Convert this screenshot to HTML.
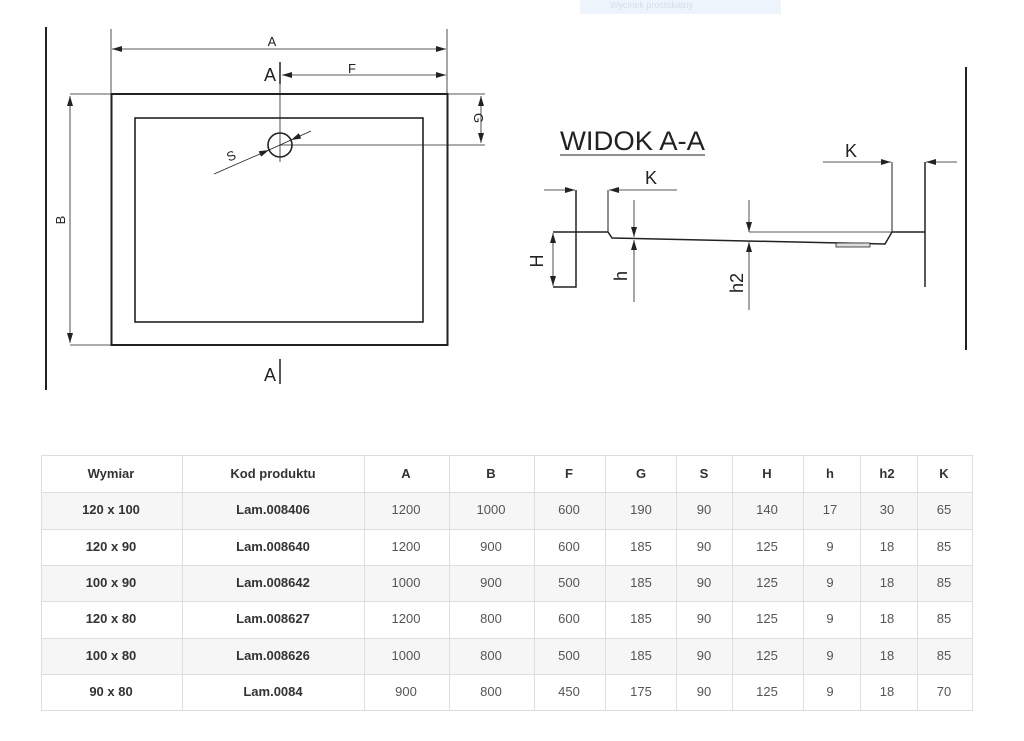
<!DOCTYPE html>
<html><head><meta charset="utf-8"><style>
html,body{margin:0;padding:0;background:#fff;width:1024px;height:741px;overflow:hidden}
svg{display:block}
.t{font-family:"Liberation Sans",sans-serif}
</style></head><body>
<svg width="1024" height="741" viewBox="0 0 1024 741" xmlns="http://www.w3.org/2000/svg">
<defs>
<marker id="ar" viewBox="0 0 10 6" refX="10" refY="3" markerWidth="10" markerHeight="6" orient="auto-start-reverse" markerUnits="userSpaceOnUse"><path d="M0,0 L10,3 L0,6 z" fill="#222"/></marker>
</defs>
<!-- faded tab -->
<rect x="580" y="0" width="201" height="14" fill="#eef4fb"/>
<text x="610" y="8" class="t" font-size="9" fill="#d5dde8">Wycinek prostokątny</text>

<g stroke="#222" fill="none">
<!-- left drawing -->
<line x1="46" y1="27" x2="46" y2="390" stroke-width="2"/>
<rect x="111.5" y="94" width="336" height="251" stroke-width="2"/>
<rect x="135" y="118" width="288" height="204" stroke-width="1.6"/>
<line x1="111" y1="29" x2="111" y2="94" stroke-width="0.8"/>
<line x1="447" y1="29" x2="447" y2="94" stroke-width="0.8"/>
<line x1="112" y1="49" x2="446" y2="49" stroke-width="0.8" marker-end="url(#ar)" marker-start="url(#ar)"/>
<line x1="282" y1="75" x2="446" y2="75" stroke-width="0.8" marker-end="url(#ar)" marker-start="url(#ar)"/>
<line x1="280" y1="64" x2="280" y2="162" stroke-width="0.8"/>
<circle cx="280" cy="145" r="12" stroke-width="1.6"/>
<line x1="280" y1="145" x2="485" y2="145" stroke-width="0.8"/>
<line x1="111" y1="94" x2="485" y2="94" stroke-width="0.8"/>
<line x1="481" y1="96" x2="481" y2="143" stroke-width="0.8" marker-end="url(#ar)" marker-start="url(#ar)"/>
<line x1="70" y1="94" x2="111" y2="94" stroke-width="0.8"/>
<line x1="70" y1="345" x2="111" y2="345" stroke-width="0.8"/>
<line x1="70" y1="96" x2="70" y2="343" stroke-width="0.8" marker-end="url(#ar)" marker-start="url(#ar)"/>
<line x1="214" y1="174" x2="269" y2="150" stroke-width="0.8" marker-end="url(#ar)"/>
<line x1="311" y1="131" x2="291" y2="140" stroke-width="0.8" marker-end="url(#ar)"/>
<line x1="269" y1="150" x2="291" y2="140" stroke-width="0.8"/>
<line x1="280" y1="62" x2="280" y2="84" stroke-width="1.5"/>
<line x1="280" y1="359" x2="280" y2="384" stroke-width="1.5"/>

<!-- right drawing -->
<line x1="966" y1="67" x2="966" y2="350" stroke-width="2"/>
<line x1="560" y1="155" x2="705" y2="155" stroke-width="1"/>
<polyline points="553,232 608,232 612,238 885,244 892,232 925,232" stroke-width="1.5"/>
<line x1="749" y1="232" x2="892" y2="232" stroke-width="0.8"/>
<polyline points="576,190 576,287 553,287" stroke-width="1.5"/>
<line x1="608" y1="190" x2="608" y2="232" stroke-width="1"/>
<line x1="892" y1="162" x2="892" y2="232" stroke-width="1"/>
<line x1="925" y1="162" x2="925" y2="287" stroke-width="1.5"/>
<rect x="836" y="243" width="34" height="4" stroke-width="0.8" fill="#ddd"/>
<line x1="544" y1="190" x2="575" y2="190" stroke-width="0.8" marker-end="url(#ar)"/>
<line x1="677" y1="190" x2="609" y2="190" stroke-width="0.8" marker-end="url(#ar)"/>
<line x1="823" y1="162" x2="891" y2="162" stroke-width="0.8" marker-end="url(#ar)"/>
<line x1="957" y1="162" x2="926" y2="162" stroke-width="0.8" marker-end="url(#ar)"/>
<line x1="634" y1="200" x2="634" y2="237" stroke-width="0.8" marker-end="url(#ar)"/>
<line x1="634" y1="302" x2="634" y2="240" stroke-width="0.8" marker-end="url(#ar)"/>
<line x1="749" y1="200" x2="749" y2="232" stroke-width="0.8" marker-end="url(#ar)"/>
<line x1="749" y1="310" x2="749" y2="242" stroke-width="0.8" marker-end="url(#ar)"/>
<line x1="553" y1="233" x2="553" y2="286" stroke-width="0.8" marker-end="url(#ar)" marker-start="url(#ar)"/>
</g>

<g class="t" fill="#222">
<text x="272" y="46" font-size="13" text-anchor="middle">A</text>
<text x="352" y="73" font-size="13" text-anchor="middle">F</text>
<text x="270" y="81" font-size="18" text-anchor="middle">A</text>
<text x="270" y="381" font-size="18" text-anchor="middle">A</text>
<text x="0" y="0" font-size="13" text-anchor="middle" transform="translate(474,118) rotate(90)">G</text>
<text x="0" y="0" font-size="13" text-anchor="middle" transform="translate(65,220) rotate(-90)">B</text>
<text x="0" y="0" font-size="13" text-anchor="middle" transform="translate(233,160) rotate(-24)">S</text>
<text x="560" y="150" font-size="26.5" textLength="145" lengthAdjust="spacingAndGlyphs">WIDOK A-A</text>
<text x="651" y="184" font-size="18" text-anchor="middle">K</text>
<text x="851" y="157" font-size="18" text-anchor="middle">K</text>
<text x="0" y="0" font-size="18" text-anchor="middle" transform="translate(543,261) rotate(-90)">H</text>
<text x="0" y="0" font-size="18" text-anchor="middle" transform="translate(627,276) rotate(-90)">h</text>
<text x="0" y="0" font-size="18" text-anchor="middle" transform="translate(743,283) rotate(-90)">h2</text>
</g>

<!-- table -->
<g>
<rect x="41" y="492" width="932" height="37" fill="#f6f6f6"/>
<rect x="41" y="565" width="932" height="36" fill="#f6f6f6"/>
<rect x="41" y="638" width="932" height="36" fill="#f6f6f6"/>
<g stroke="#dedede" stroke-width="1" fill="none">
<rect x="41.5" y="455.5" width="931" height="255"/>
<line x1="41" y1="492.5" x2="973" y2="492.5"/><line x1="41" y1="529.5" x2="973" y2="529.5"/>
<line x1="41" y1="565.5" x2="973" y2="565.5"/><line x1="41" y1="601.5" x2="973" y2="601.5"/>
<line x1="41" y1="638.5" x2="973" y2="638.5"/><line x1="41" y1="674.5" x2="973" y2="674.5"/>
<line x1="182.5" y1="455" x2="182.5" y2="711"/><line x1="364.5" y1="455" x2="364.5" y2="711"/>
<line x1="449.5" y1="455" x2="449.5" y2="711"/><line x1="534.5" y1="455" x2="534.5" y2="711"/>
<line x1="605.5" y1="455" x2="605.5" y2="711"/><line x1="676.5" y1="455" x2="676.5" y2="711"/>
<line x1="732.5" y1="455" x2="732.5" y2="711"/><line x1="803.5" y1="455" x2="803.5" y2="711"/>
<line x1="860.5" y1="455" x2="860.5" y2="711"/><line x1="917.5" y1="455" x2="917.5" y2="711"/>
</g>
<g class="t" font-size="13" text-anchor="middle" font-weight="bold" fill="#333">
<text x="111" y="478">Wymiar</text><text x="273" y="478">Kod produktu</text>
<text x="406" y="478">A</text><text x="491" y="478">B</text><text x="569" y="478">F</text>
<text x="641" y="478">G</text><text x="704" y="478">S</text><text x="767" y="478">H</text>
<text x="830" y="478">h</text><text x="887" y="478">h2</text><text x="944" y="478">K</text>
<text x="111" y="514">120 x 100</text><text x="273" y="514">Lam.008406</text>
<text x="111" y="551">120 x 90</text><text x="273" y="551">Lam.008640</text>
<text x="111" y="587">100 x 90</text><text x="273" y="587">Lam.008642</text>
<text x="111" y="623">120 x 80</text><text x="273" y="623">Lam.008627</text>
<text x="111" y="660">100 x 80</text><text x="273" y="660">Lam.008626</text>
<text x="111" y="696">90 x 80</text><text x="273" y="696">Lam.0084</text>
</g>
<g class="t" font-size="13" text-anchor="middle" fill="#555">
<text x="406" y="514">1200</text><text x="491" y="514">1000</text><text x="569" y="514">600</text><text x="641" y="514">190</text><text x="704" y="514">90</text><text x="767" y="514">140</text><text x="830" y="514">17</text><text x="887" y="514">30</text><text x="944" y="514">65</text>
<text x="406" y="551">1200</text><text x="491" y="551">900</text><text x="569" y="551">600</text><text x="641" y="551">185</text><text x="704" y="551">90</text><text x="767" y="551">125</text><text x="830" y="551">9</text><text x="887" y="551">18</text><text x="944" y="551">85</text>
<text x="406" y="587">1000</text><text x="491" y="587">900</text><text x="569" y="587">500</text><text x="641" y="587">185</text><text x="704" y="587">90</text><text x="767" y="587">125</text><text x="830" y="587">9</text><text x="887" y="587">18</text><text x="944" y="587">85</text>
<text x="406" y="623">1200</text><text x="491" y="623">800</text><text x="569" y="623">600</text><text x="641" y="623">185</text><text x="704" y="623">90</text><text x="767" y="623">125</text><text x="830" y="623">9</text><text x="887" y="623">18</text><text x="944" y="623">85</text>
<text x="406" y="660">1000</text><text x="491" y="660">800</text><text x="569" y="660">500</text><text x="641" y="660">185</text><text x="704" y="660">90</text><text x="767" y="660">125</text><text x="830" y="660">9</text><text x="887" y="660">18</text><text x="944" y="660">85</text>
<text x="406" y="696">900</text><text x="491" y="696">800</text><text x="569" y="696">450</text><text x="641" y="696">175</text><text x="704" y="696">90</text><text x="767" y="696">125</text><text x="830" y="696">9</text><text x="887" y="696">18</text><text x="944" y="696">70</text>
</g>
</g>
</svg>
</body></html>
